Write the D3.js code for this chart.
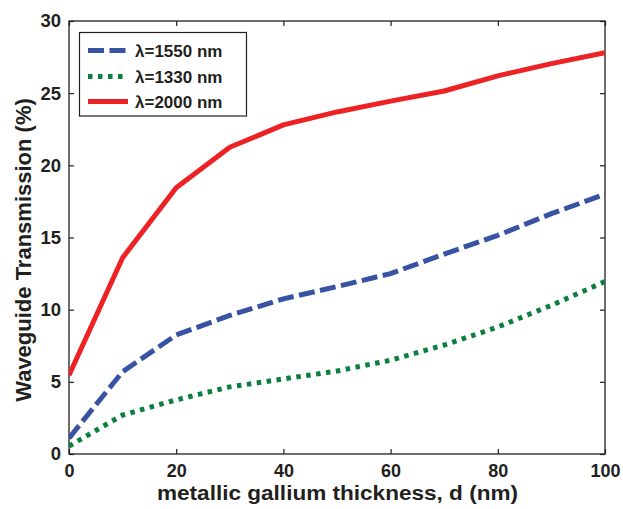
<!DOCTYPE html>
<html><head><meta charset="utf-8">
<script src="https://cdn.jsdelivr.net/npm/d3@7"></script>
<style>
html,body{margin:0;padding:0;background:#fff;}
svg text{font-family:"Liberation Sans",Arial,Helvetica,sans-serif;font-weight:bold;fill:#231f20;}
</style></head>
<body>
<svg id="chart" width="623" height="509"></svg>
<script>
const thickness = [0,10,20,30,40,50,60,70,80,90,100];
const t1550 = [1.1,5.7,8.25,9.6,10.75,11.6,12.5,13.85,15.15,16.65,18.0];
const t1330 = [0.55,2.7,3.75,4.65,5.2,5.75,6.5,7.55,8.8,10.3,11.95];
const t2000 = [5.45,13.6,18.45,21.25,22.8,23.7,24.45,25.15,26.2,27.05,27.8];
const xTicks = [0,20,40,60,80,100];
const yTicks = [0,5,10,15,20,25,30];
const seriesNames = ["λ=1550 nm","λ=1330 nm","λ=2000 nm"];

const series = [
  {name:seriesNames[0], values:t1550, color:"#3953a4", dash:"16,5.5", cap:"butt"},
  {name:seriesNames[1], values:t1330, color:"#0b7f3f", dash:"4.5,5.5", cap:"butt"},
  {name:seriesNames[2], values:t2000, color:"#ed2224", dash:null, cap:"butt"}
];

const svg = d3.select("#chart");
const L=69, R=605, T=21, B=454;
const x = d3.scaleLinear().domain([0,100]).range([L,R]);
const y = d3.scaleLinear().domain([0,30]).range([B,T]);

// box
svg.append("rect").attr("x",L).attr("y",T).attr("width",R-L).attr("height",B-T)
  .attr("fill","none").attr("stroke","#231f20").attr("stroke-width",1.3);

const tl=5;
svg.append("g").attr("transform",`translate(0,${B})`)
  .call(d3.axisBottom(x).tickValues(xTicks).tickSizeInner(-tl).tickSizeOuter(0).tickPadding(10))
  .call(g=>{g.select(".domain").remove();g.selectAll("text").attr("font-size",18).attr("dy","0.71em");});
svg.append("g").attr("transform",`translate(0,${T})`)
  .call(d3.axisTop(x).tickValues(xTicks).tickSizeInner(-tl).tickSizeOuter(0).tickFormat(""))
  .call(g=>g.select(".domain").remove());
svg.append("g").attr("transform",`translate(${L},0)`)
  .call(d3.axisLeft(y).tickValues(yTicks).tickSizeInner(-tl).tickSizeOuter(0).tickPadding(8))
  .call(g=>{g.select(".domain").remove();g.selectAll("text").attr("font-size",18.5);});
svg.append("g").attr("transform",`translate(${R},0)`)
  .call(d3.axisRight(y).tickValues(yTicks).tickSizeInner(-tl).tickSizeOuter(0).tickFormat(""))
  .call(g=>g.select(".domain").remove());
svg.selectAll(".tick line").attr("stroke","#231f20").attr("stroke-width",1.2);
svg.selectAll(".tick text").attr("fill","#231f20");

// lines
const line = d3.line().x((d,i)=>x(thickness[i])).y(d=>y(d));
svg.append("clipPath").attr("id","clp").append("rect")
  .attr("x",L).attr("y",T-3).attr("width",R-L).attr("height",B-T+3);
series.forEach(s=>{
  svg.append("path").datum(s.values).attr("d",line)
    .attr("fill","none").attr("stroke",s.color).attr("stroke-width",5)
    .attr("stroke-linejoin","round").attr("stroke-linecap",s.cap)
    .attr("stroke-dasharray",s.dash).attr("clip-path","url(#clp)");
});

// legend
const lg = svg.append("g");
lg.append("rect").attr("x",79.5).attr("y",32.5).attr("width",167).attr("height",83.5)
  .attr("fill","#fff").attr("stroke","#231f20").attr("stroke-width",1.2);
const rowsY=[50.5,76.5,101.5];
series.forEach((s,i)=>{
  lg.append("line").attr("x1",88).attr("x2",128).attr("y1",rowsY[i]).attr("y2",rowsY[i])
    .attr("stroke",s.color).attr("stroke-width",5).attr("stroke-dasharray",s.dash);
  lg.append("text").attr("x",135).attr("y",rowsY[i]).attr("dy","0.36em")
    .attr("font-size",17).text(s.name);
});

// axis titles
svg.append("text").attr("x",157).attr("y",500)
  .attr("font-size",20).attr("textLength",361).attr("lengthAdjust","spacingAndGlyphs")
  .text("metallic gallium thickness, d (nm)");
svg.append("text").attr("transform",`translate(30.5,250) rotate(-90)`)
  .attr("text-anchor","middle").attr("font-size",22).text("Waveguide Transmission (%)");
</script>
</body></html>
